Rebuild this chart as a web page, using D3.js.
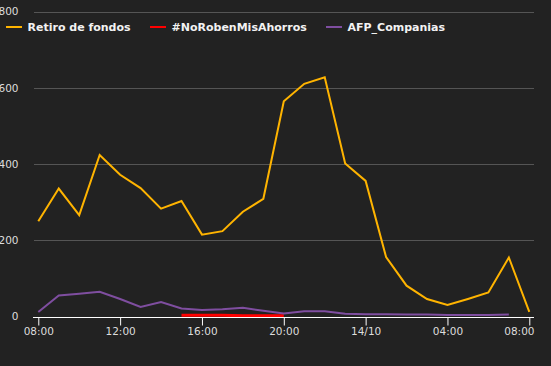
<!DOCTYPE html>
<html>
<head>
<meta charset="utf-8">
<script src="https://cdn.jsdelivr.net/npm/d3@7"></script>
<style>
  html, body { margin: 0; padding: 0; background: #222222; }
  svg { display: block; }
</style>
</head>
<body>
<svg id="chart" width="551" height="366"></svg>
<script>
// ---- Data (hourly, 13/10 08:00 -> 14/10 08:00) ----
const hours = d3.range(0, 25).map(h => new Date(2020, 9, 13, 8 + h));
const retiroValues = [250, 336, 266, 424, 372, 337, 283, 303, 215, 224, 275, 309,
                      565, 611, 628, 402, 356, 156, 81, 46, 30, 46, 63, 155, 12];
const noRobenHours = hours.slice(7, 13); // 15:00 -> 20:00
const noRobenValues = [3, 3, 3, 2, 2, 2];
const afpHours = hours.slice(0, 24);      // 08:00 -> 07:00
const afpValues = [12, 55, 60, 65, 46, 25, 38, 21, 17, 19, 23, 15,
                   8, 14, 14, 7, 6, 6, 5, 5, 4, 4, 4, 5];
const yTicks = [0, 200, 400, 600, 800];
const xTicks = d3.range(0, 25, 4).map(h => new Date(2020, 9, 13, 8 + h));
const seriesNames = ["Retiro de fondos", "#NoRobenMisAhorros", "AFP_Companias"];
const seriesColors = ["#ffb400", "#ff0000", "#7f4ea0"];

// ---- Layout ----
const svg = d3.select("#chart");
const plotLeft = 34, plotRight = 534;
const x = d3.scaleTime().domain([hours[0], hours[24]]).range([38.3, 529.3]);
const y = d3.scaleLinear().domain([0, 800]).range([316.5, 11.8]);

// gridlines
svg.append("g").selectAll("line").data(yTicks.filter(d => d > 0)).join("line")
  .attr("x1", plotLeft).attr("x2", plotRight)
  .attr("y1", d => Math.round(y(d)) + 0.5).attr("y2", d => Math.round(y(d)) + 0.5)
  .attr("stroke", "#555555").attr("stroke-width", 1);

// y labels
svg.append("g").selectAll("text").data(yTicks).join("text")
  .attr("x", 18.5).attr("y", d => y(d)).attr("dy", "0.35em")
  .attr("text-anchor", "end")
  .attr("fill", "#dddddd")
  .style("font-family", "DejaVu Sans").style("font-size", "10.5px")
  .text(d => d);

// lines
const line = (xs) => d3.line().x((d, i) => x(xs[i])).y(d => y(d));

svg.append("path").datum(noRobenValues)
  .attr("d", line(noRobenHours))
  .attr("fill", "none").attr("stroke", seriesColors[1]).attr("stroke-width", 3);

svg.append("path").datum(afpValues)
  .attr("d", line(afpHours))
  .attr("fill", "none").attr("stroke", seriesColors[2]).attr("stroke-width", 2);

svg.append("path").datum(retiroValues)
  .attr("d", line(hours))
  .attr("fill", "none").attr("stroke", seriesColors[0]).attr("stroke-width", 2)
  .attr("stroke-linejoin", "miter");

// x axis
const fmt = d => d.getHours() === 0 ? d3.timeFormat("%d/%m")(d) : d3.timeFormat("%H:%M")(d);
const axisY = Math.round(y(0)) + 0.5;
svg.append("line").attr("x1", plotLeft - 1).attr("x2", plotRight)
  .attr("y1", axisY).attr("y2", axisY).attr("stroke", "#ffffff").attr("stroke-width", 1);
const xa = svg.append("g").attr("transform", `translate(0,${axisY})`)
  .call(d3.axisBottom(x).tickValues(xTicks).tickSize(8).tickSizeOuter(0).tickFormat(fmt));
xa.select(".domain").remove();
xa.selectAll(".tick line").attr("stroke", "#ffffff");
xa.selectAll(".tick text")
  .attr("fill", "#dddddd").attr("y", 10)
  .style("font-family", "DejaVu Sans").style("font-size", "10.5px");
xa.selectAll(".tick text").filter((d, i) => i === xTicks.length - 1)
  .attr("text-anchor", "end").attr("x", plotRight - x(xTicks[xTicks.length - 1]));

// legend
const legendX = [6, 150, 326];
const lg = svg.append("g").selectAll("g").data(seriesNames).join("g")
  .attr("transform", (d, i) => `translate(${legendX[i]},27)`);
lg.append("line").attr("x1", 0).attr("x2", 16).attr("y1", 0).attr("y2", 0)
  .attr("stroke", (d, i) => seriesColors[i]).attr("stroke-width", 2);
lg.append("text").attr("x", 21.5).attr("dy", "0.35em")
  .attr("fill", "#f2f2f2")
  .style("font-family", "DejaVu Sans").style("font-weight", "bold").style("font-size", "11px")
  .text(d => d);
</script>
</body>
</html>
